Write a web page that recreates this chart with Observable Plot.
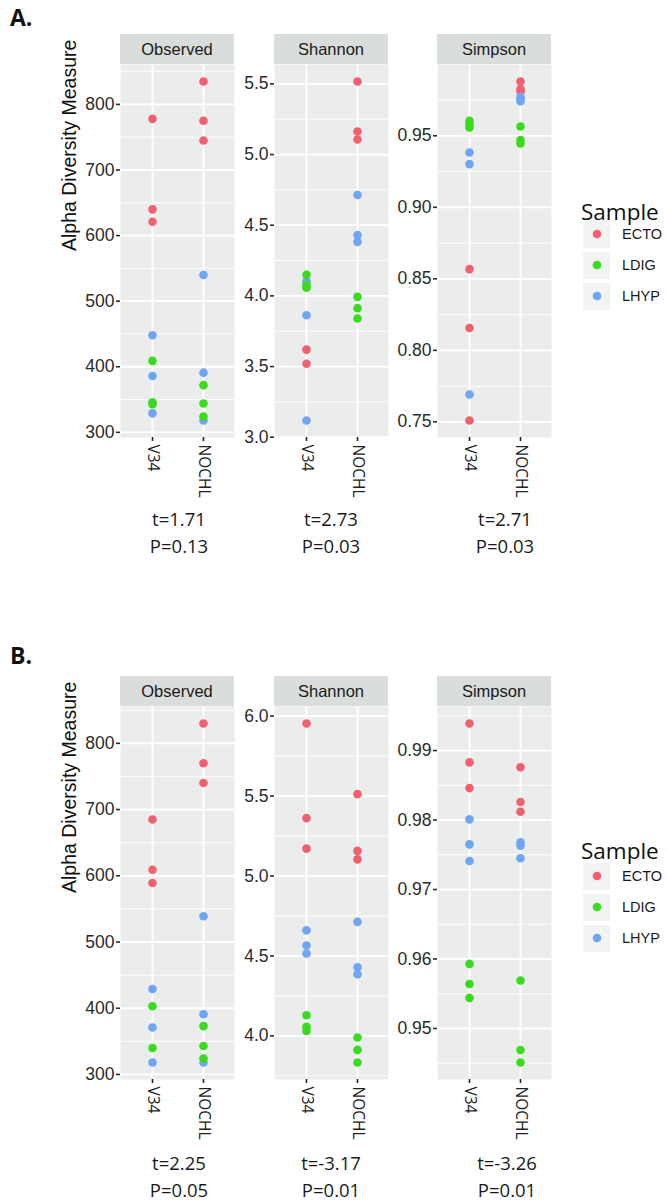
<!DOCTYPE html>
<html><head><meta charset="utf-8">
<script src="https://cdn.jsdelivr.net/npm/d3@7"></script>
<script src="https://cdn.jsdelivr.net/npm/@observablehq/plot@0.6"></script>
<style>
body{margin:0;background:#fff;}
#root{position:relative;width:667px;height:1202px;overflow:hidden;background:#fff;}
.pw{position:absolute;}
</style></head><body><div id="root"></div>
<script>
// ---------- data ----------
const samples = ["ECTO", "LDIG", "LHYP"];
const sampleColors = ["#F1606F", "#3ADB1E", "#6FA5F2"];
const regions = ["V34", "NOCHL"];
const measures = ["Observed", "Shannon", "Simpson"];

// Panel A
const obsA_V34 = {ECTO: [778, 640, 621], LDIG: [409, 346, 343], LHYP: [448, 386, 329]};
const obsA_NOCHL = {ECTO: [835, 775, 745], LDIG: [372, 344, 324], LHYP: [540, 391, 318]};
const shanA_V34 = {ECTO: [3.62, 3.52], LDIG: [4.149, 4.076, 4.057], LHYP: [4.104, 3.863, 3.118]};
const shanA_NOCHL = {ECTO: [5.517, 5.163, 5.106], LDIG: [3.993, 3.913, 3.84], LHYP: [4.714, 4.43, 4.382]};
const simpA_V34 = {ECTO: [0.8568, 0.8156, 0.7509], LDIG: [0.9605, 0.958, 0.9558], LHYP: [0.9383, 0.9302, 0.7691]};
const simpA_NOCHL = {ECTO: [0.988, 0.9827, 0.981], LDIG: [0.9565, 0.947, 0.9446], LHYP: [0.9772, 0.9757, 0.9742]};

// Panel B
const obsB_V34 = {ECTO: [685, 609, 589], LDIG: [403, 340], LHYP: [429, 371, 318]};
const obsB_NOCHL = {ECTO: [830, 770, 740], LDIG: [373, 343, 324], LHYP: [539, 391, 318]};
const shanB_V34 = {ECTO: [5.954, 5.362, 5.171], LDIG: [4.129, 4.056, 4.031], LHYP: [4.66, 4.565, 4.515]};
const shanB_NOCHL = {ECTO: [5.512, 5.157, 5.104], LDIG: [3.99, 3.912, 3.833], LHYP: [4.713, 4.429, 4.385]};
const simpB_V34 = {ECTO: [0.9939, 0.9883, 0.9846], LDIG: [0.9593, 0.9564, 0.9544], LHYP: [0.9801, 0.9765, 0.9741]};
const simpB_NOCHL = {ECTO: [0.9876, 0.9826, 0.9812], LDIG: [0.9569, 0.9469, 0.9451], LHYP: [0.9768, 0.9763, 0.9745]};

// tick labels
const obsTicks = [300, 400, 500, 600, 700, 800];
const obsMinor = [350, 450, 550, 650, 750, 850];
const shanATicks = [3.0, 3.5, 4.0, 4.5, 5.0, 5.5];
const shanAMinor = [3.25, 3.75, 4.25, 4.75, 5.25];
const simpATicks = [0.75, 0.80, 0.85, 0.90, 0.95];
const simpAMinor = [0.775, 0.825, 0.875, 0.925, 0.975];
const shanBTicks = [4.0, 4.5, 5.0, 5.5, 6.0];
const shanBMinor = [3.75, 4.25, 4.75, 5.25, 5.75];
const simpBTicks = [0.95, 0.96, 0.97, 0.98, 0.99];
const simpBMinor = [0.945, 0.955, 0.965, 0.975, 0.985, 0.995];

// statistics text
const statsA_t = ["t=1.71", "t=2.73", "t=2.71"];
const statsA_P = ["P=0.13", "P=0.03", "P=0.03"];
const statsB_t = ["t=2.25", "t=-3.17", "t=-3.26"];
const statsB_P = ["P=0.05", "P=0.01", "P=0.01"];

// ---------- layout ----------
const PW = 114, PH = 373, MB = 75;
const panelBg = "#EBEDEC", stripBg = "#D9DDDC";
const ggFont = '"Liberation Sans", Arial, Helvetica, sans-serif';
const hFont = '"Open Sans", "Noto Sans", sans-serif';
const cols = [
  {left: 0, ml: 120, fmt: d3.format("d")},
  {left: 234, ml: 40, fmt: d3.format(".1f")},
  {left: 388, ml: 49, fmt: d3.format(".2f")}
];
const drawOrder = ["ECTO", "LHYP", "LDIG"];
const root = document.getElementById("root");

function rowsOf(v34, nochl) {
  const rows = [];
  for (const [region, obj] of [["V34", v34], ["NOCHL", nochl]])
    for (const s of drawOrder) for (const v of obj[s]) rows.push({region, sample: s, value: v});
  return rows;
}

function drawPanel(col, top, rows, ticks, minor, withTitle) {
  const vals = rows.map(d => d.value);
  const lo = d3.min(vals), hi = d3.max(vals), pad = (hi - lo) * 0.05;
  const dom = [lo - pad, hi + pad];
  const inDom = v => v >= dom[0] && v <= dom[1];
  const marks = [
    Plot.frame({fill: panelBg, stroke: null}),
    Plot.ruleY(minor.filter(inDom), {stroke: "white", strokeWidth: 0.9}),
    Plot.ruleY(ticks.filter(inDom), {stroke: "white", strokeWidth: 1.8}),
    Plot.ruleX(regions, {stroke: "white", strokeWidth: 1.8}),
    Plot.dot(rows, {x: "region", y: "value", fill: "sample", r: 4.3, stroke: null}),
    Plot.axisY(ticks, {tickSize: 4, tickPadding: 2, tickFormat: col.fmt, fontSize: 17.5, color: "#2b2b2b", strokeWidth: 1.6, label: null, fontFamily: ggFont}),
    Plot.axisX({tickRotate: 90, tickSize: 4, tickPadding: 3, fontSize: 15.5, color: "#222", strokeWidth: 1.6, label: null, fontFamily: hFont})
  ];
  if (withTitle) marks.push(Plot.text(["Alpha Diversity Measure"], {frameAnchor: "left", rotate: -90, dx: -51, fontSize: 19.5, fill: "#111", fontFamily: ggFont}));
  const svg = Plot.plot({
    width: col.ml + PW, height: PH + MB,
    marginLeft: col.ml, marginRight: 0, marginTop: 0, marginBottom: MB,
    style: {background: "transparent", overflow: "visible", fontFamily: ggFont},
    x: {type: "point", domain: regions, padding: 0.6},
    y: {domain: dom},
    color: {domain: samples, range: sampleColors},
    marks
  });
  const wrap = document.createElement("div");
  wrap.className = "pw";
  wrap.style.left = col.left + "px";
  wrap.style.top = top + "px";
  wrap.style.width = (col.ml + PW) + "px";
  wrap.appendChild(svg);
  root.appendChild(wrap);
}

const blocks = [
  {label: "A.", labelY: 26, stripTop: 34, panelTop: 64, tY: 520, pY: 547,
   data: [[obsA_V34, obsA_NOCHL, obsTicks, obsMinor], [shanA_V34, shanA_NOCHL, shanATicks, shanAMinor], [simpA_V34, simpA_NOCHL, simpATicks, simpAMinor]],
   t: statsA_t, p: statsA_P, tx: [179, 331, 505], legTitle: 220, legY: [234, 265, 296]},
  {label: "B.", labelY: 664, stripTop: 676, panelTop: 706, tY: 1164, pY: 1191,
   data: [[obsB_V34, obsB_NOCHL, obsTicks, obsMinor], [shanB_V34, shanB_NOCHL, shanBTicks, shanBMinor], [simpB_V34, simpB_NOCHL, simpBTicks, simpBMinor]],
   t: statsB_t, p: statsB_P, tx: [179, 331, 507], legTitle: 859, legY: [876, 907, 938]}
];

for (const b of blocks) {
  b.data.forEach((d, i) => drawPanel(cols[i], b.panelTop, rowsOf(d[0], d[1]), d[2], d[3], i === 0));
}

// ---------- overlay: strips, labels, legend, stats ----------
const ov = d3.select(root).append("svg")
  .attr("width", 667).attr("height", 1202)
  .style("position", "absolute").style("left", 0).style("top", 0)
  .style("pointer-events", "none");

for (const b of blocks) {
  ov.append("text").attr("x", 10).attr("y", b.labelY).text(b.label)
    .attr("font-family", hFont).attr("font-weight", 700).attr("font-size", 23).attr("fill", "#111");
  cols.forEach((c, i) => {
    const x0 = c.left + c.ml;
    ov.append("rect").attr("x", x0).attr("y", b.stripTop).attr("width", PW).attr("height", 30).attr("fill", stripBg);
    ov.append("text").attr("x", x0 + PW / 2).attr("y", b.stripTop + 15).attr("dy", "0.35em")
      .attr("text-anchor", "middle").attr("font-family", ggFont).attr("font-size", 16.5).attr("fill", "#1a1a1a")
      .text(measures[i]);
    ov.append("text").attr("x", b.tx[i]).attr("y", b.tY).attr("dy", "0.35em").attr("text-anchor", "middle")
      .attr("font-family", hFont).attr("font-size", 18.5).attr("fill", "#1a1a1a").text(b.t[i]);
    ov.append("text").attr("x", b.tx[i]).attr("y", b.pY).attr("dy", "0.35em").attr("text-anchor", "middle")
      .attr("font-family", hFont).attr("font-size", 18.5).attr("fill", "#1a1a1a").text(b.p[i]);
  });
  // legend
  ov.append("text").attr("x", 581).attr("y", b.legTitle).text("Sample")
    .attr("font-family", hFont).attr("font-size", 22.5).attr("fill", "#111");
  samples.forEach((s, j) => {
    const y = b.legY[j];
    ov.append("rect").attr("x", 583).attr("y", y - 13).attr("width", 27).attr("height", 27).attr("fill", "#F2F3F3");
    ov.append("circle").attr("cx", 597).attr("cy", y).attr("r", 4.3).attr("fill", sampleColors[j]);
    ov.append("text").attr("x", 622).attr("y", y).attr("dy", "0.35em").text(s)
      .attr("font-family", ggFont).attr("font-size", 14.5).attr("fill", "#1a1a1a");
  });
}
</script></body></html>
